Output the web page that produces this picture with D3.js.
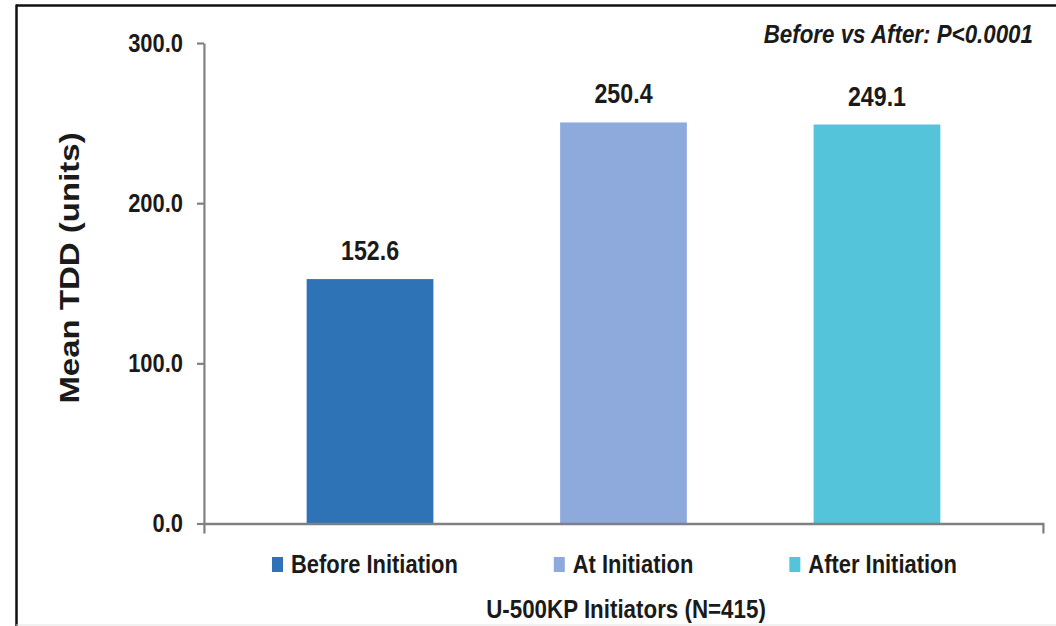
<!DOCTYPE html>
<html>
<head>
<meta charset="utf-8">
<script src="https://cdn.jsdelivr.net/npm/d3@7"></script>
<style>
  html, body { margin: 0; padding: 0; background: #fff; }
  svg { display: block; }
  text { font-family: "Liberation Sans", Arial, Helvetica, sans-serif; font-weight: bold; fill: #1a1a1a; }
</style>
</head>
<body>
<svg id="chart"></svg>
<script>
// Mean total daily dose by period
const categories = ["Before Initiation", "At Initiation", "After Initiation"];
const values = [152.6, 250.4, 249.1];
const colors = ["#2e73b5", "#8eaadc", "#53c4da"];
const yTicks = [0, 100, 200, 300];
const yTitle = "Mean TDD (units)";
const xTitle = "U-500KP Initiators (N=415)";
const note = "Before vs After: P<0.0001";

const W = 1056, H = 626;
const S = 0.86;                // horizontal compression of the whole drawing
const VW = W / S;
const px = v => v / S;         // screen x (px) -> drawing units

const svg = d3.select("#chart")
  .attr("width", W).attr("height", H)
  .attr("viewBox", `0 0 ${VW} ${H}`)
  .attr("preserveAspectRatio", "none");

// frame
svg.append("line").attr("x1", px(16)).attr("x2", VW).attr("y1", 5.5).attr("y2", 5.5)
  .attr("stroke", "#111").attr("stroke-width", 2.5);
svg.append("line").attr("x1", px(16.5)).attr("x2", px(16.5)).attr("y1", 4.5).attr("y2", H)
  .attr("stroke", "#111").attr("stroke-width", 2.5 / S);
svg.append("line").attr("x1", px(16)).attr("x2", VW).attr("y1", 625).attr("y2", 625)
  .attr("stroke", "#e2e2e2").attr("stroke-width", 1);

const plot = { left: px(204), right: px(1043), top: 43, bottom: 523.5 };

const x = d3.scaleBand().domain(categories)
  .range([plot.left, plot.right])
  .paddingInner(0.5).paddingOuter(0.405);
const y = d3.scaleLinear().domain([0, 300]).range([plot.bottom, plot.top]);

// bars
svg.append("g").selectAll("rect").data(categories).join("rect")
  .attr("x", d => x(d))
  .attr("width", x.bandwidth())
  .attr("y", (d, i) => y(values[i]))
  .attr("height", (d, i) => y(0) - y(values[i]))
  .attr("fill", (d, i) => colors[i]);

// value labels
svg.append("g").selectAll("text").data(categories).join("text")
  .attr("x", d => x(d) + x.bandwidth() / 2)
  .attr("y", (d, i) => y(values[i]) - 19)
  .attr("text-anchor", "middle")
  .style("font-size", "27px")
  .text((d, i) => d3.format(".1f")(values[i]));

// y axis
const yAxis = svg.append("g")
  .attr("transform", `translate(${plot.left},0)`)
  .call(d3.axisLeft(y).tickValues(yTicks).tickFormat(d3.format(".1f"))
    .tickSizeInner(px(7)).tickSizeOuter(0).tickPadding(px(14)));
yAxis.select(".domain").attr("stroke", "#808080").attr("stroke-width", 2.2 / S);
yAxis.selectAll(".tick line").attr("stroke", "#808080").attr("stroke-width", 2.2);
yAxis.selectAll(".tick text")
  .style("font-size", "25.5px").style("font-family", null)
  .attr("fill", "#1a1a1a");

// x axis (line with end ticks only)
const xAxis = svg.append("g")
  .attr("transform", `translate(0,${plot.bottom})`)
  .call(d3.axisBottom(x).tickValues([]).tickSizeOuter(10));
xAxis.select(".domain").attr("stroke", "#808080").attr("stroke-width", 2.6);

// y title
svg.append("text")
  .attr("transform", `translate(${px(79)},268) rotate(-90)`)
  .attr("text-anchor", "middle")
  .style("font-size", "33px")
  .text(yTitle);

// x title
svg.append("text")
  .attr("x", px(626)).attr("y", 618)
  .attr("text-anchor", "middle")
  .style("font-size", "26px")
  .text(xTitle);

// significance note
svg.append("text")
  .attr("x", px(1033)).attr("y", 43)
  .attr("text-anchor", "end")
  .style("font-size", "26px").style("font-style", "italic")
  .text(note);

// legend
const legend = svg.append("g");
let lx = px(272);
categories.forEach((c, i) => {
  const g = legend.append("g");
  g.append("rect").attr("x", lx).attr("y", 557).attr("width", px(11)).attr("height", 15)
    .attr("fill", colors[i]);
  const t = g.append("text").attr("x", lx + px(19)).attr("y", 573.5)
    .style("font-size", "25.5px").text(c);
  lx += px(19) + t.node().getComputedTextLength() + px(96);
});
</script>
</body>
</html>
